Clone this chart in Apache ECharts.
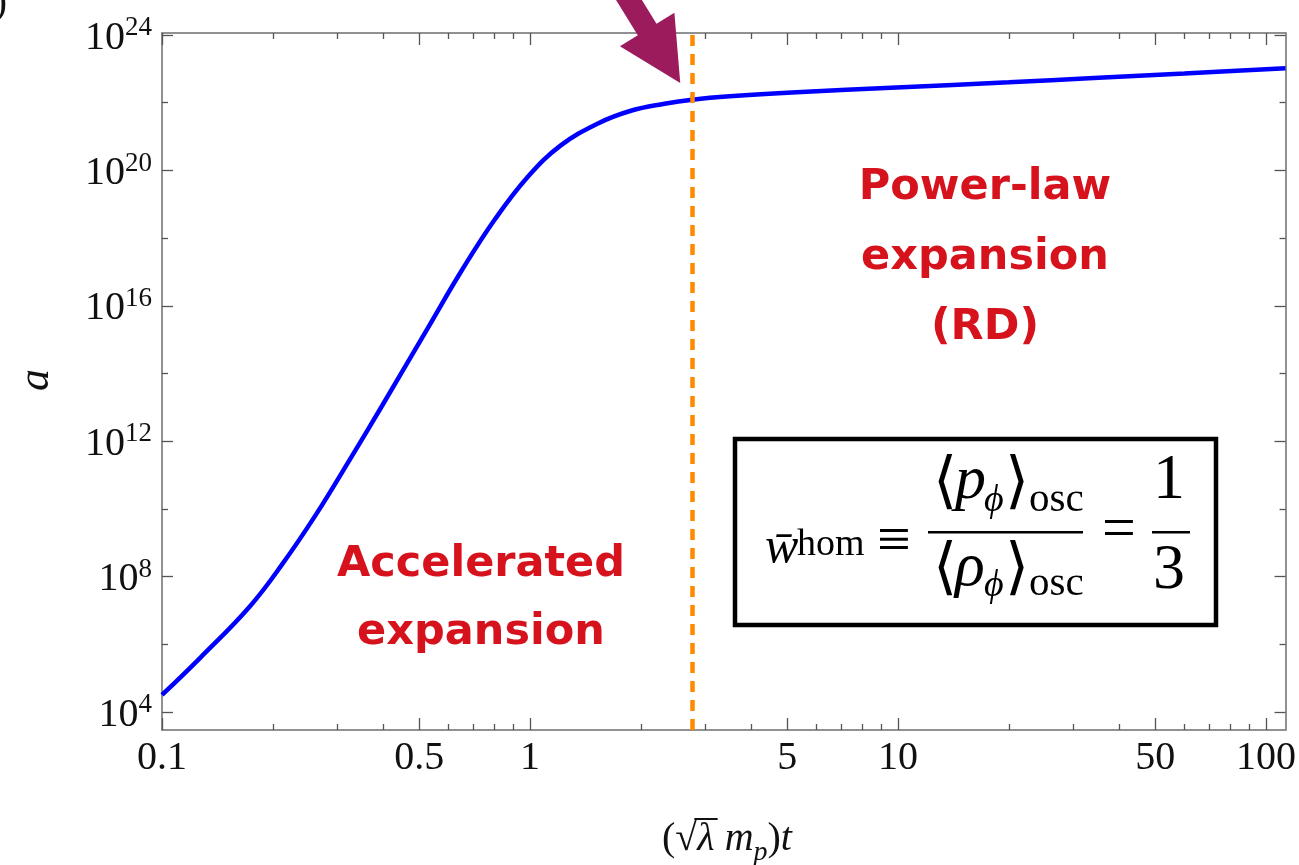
<!DOCTYPE html>
<html><head><meta charset="utf-8">
<script src="https://cdn.jsdelivr.net/npm/echarts@6/dist/echarts.min.js"></script>
<style>html,body{margin:0;padding:0;background:#fff}#c{width:1299px;height:865px}</style>
</head><body><div id="c"></div><script>
// ---- data ----
const tValues = [0.1, 0.127, 0.173, 0.212, 0.262, 0.322, 0.396, 0.53, 0.651, 0.803, 0.988, 1.21, 1.53, 1.88, 2.32, 2.76, 3.49, 5.3, 9.9, 20, 34, 60, 113];
const aValues = [3.2e4, 4.0e5, 1.3e7, 2.3e8, 6.8e9, 2.6e11, 1.1e13, 2.4e15, 1.07e17, 3.6e18, 6.6e19, 5.4e20, 2.45e21, 5.8e21, 9.3e21, 1.23e22, 1.55e22, 2.04e22, 2.8e22, 4.0e22, 5.4e22, 7.3e22, 1.05e23];
const xMajorTicks = [0.1, 0.5, 1, 5, 10, 50, 100];
const xMinorTicks = [0.2, 0.3, 0.4, 0.6, 0.7, 0.8, 0.9, 2, 3, 4, 6, 7, 8, 9, 20, 30, 40, 60, 70, 80, 90];
const yMajorTicks = [1e4, 1e8, 1e12, 1e16, 1e20, 1e24];
const yMinorTicks = [1e6, 1e10, 1e14, 1e18, 1e22];
const transitionT = 2.76;
const arrowTip = [2.56, 3.8e22];
const xRange = [0.1, 113];
const yRange = [Math.pow(10, 3.47), Math.pow(10, 24.06)];

const SERIF = '"Liberation Serif", "Times New Roman", serif';
const AXIS_COLOR = '#8a8a8a';
const TICK_COLOR = '#555';

function xAxisDef(pos, ticks, len, withLabels) {
  const ax = {
    type: 'log', logBase: 10, min: xRange[0], max: xRange[1], position: pos,
    axisLine: { show: true, onZero: false, lineStyle: { color: AXIS_COLOR, width: 1.5 } },
    axisTick: { show: true, inside: true, length: len, customValues: ticks, lineStyle: { color: TICK_COLOR, width: 1.3 } },
    axisLabel: { show: false },
    splitLine: { show: false }, minorTick: { show: false }, minorSplitLine: { show: false }
  };
  if (withLabels) {
    ax.axisLabel = {
      show: true, customValues: xMajorTicks, margin: 8,
      fontFamily: SERIF, fontSize: 40, color: '#111',
      formatter: v => String(Number(Number(v).toPrecision(6)))
    };
  }
  return ax;
}
function yAxisDef(pos, ticks, len, withLabels) {
  const ax = {
    type: 'log', logBase: 10, min: yRange[0], max: yRange[1], position: pos,
    axisLine: { show: true, onZero: false, lineStyle: { color: AXIS_COLOR, width: 1.5 } },
    axisTick: { show: true, inside: true, length: len, customValues: ticks, lineStyle: { color: TICK_COLOR, width: 1.3 } },
    axisLabel: { show: false },
    splitLine: { show: false }, minorTick: { show: false }, minorSplitLine: { show: false }
  };
  if (withLabels) {
    ax.axisLabel = {
      show: true, customValues: yMajorTicks, margin: 10,
      formatter: v => '{b|10}{s|' + Math.round(Math.log10(v)) + '}',
      rich: {
        b: { fontFamily: SERIF, fontSize: 40, color: '#111', padding: [6, 0, 0, 0] },
        s: { fontFamily: SERIF, fontSize: 27, color: '#111', padding: [0, 0, 14, 0] }
      }
    };
  }
  return ax;
}

const chart = echarts.init(document.getElementById('c'), null, { renderer: 'canvas' });

const RED = '#d6131d';
const formulaFont = (size, italic) => (italic ? 'italic ' : '') + size + 'px ' + SERIF;
function txt(text, x, y, size, italic, align) {
  return { type: 'text', silent: true, z: 110,
    style: { text: text, x: x, y: y, font: formulaFont(size, italic), fill: '#000', textAlign: align || 'left', textVerticalAlign: 'middle' } };
}

const graphics = [
  { type: 'text', silent: true, style: { text: 'b)', x: 7, y: 3, font: '40px ' + SERIF, fill: '#111', textAlign: 'right', textVerticalAlign: 'middle' } },
  { type: 'text', silent: true, x: 36, y: 380, rotation: Math.PI / 2,
    style: { text: 'a', x: 0, y: 0, font: 'italic 44px ' + SERIF, fill: '#111', textAlign: 'center', textVerticalAlign: 'middle' } },
  { type: 'text', silent: true, z: 100, style: { text: 'Accelerated\nexpansion', x: 481, y: 599, font: 'bold 43px "DejaVu Sans"', fill: RED, textAlign: 'center', textVerticalAlign: 'middle', lineHeight: 68 } },
  { type: 'text', silent: true, z: 100, style: { text: 'Power-law\nexpansion\n(RD)', x: 985, y: 258, font: 'bold 43px "DejaVu Sans"', fill: RED, textAlign: 'center', textVerticalAlign: 'middle', lineHeight: 70 } },
  { type: 'rect', silent: true, z: 105, shape: { x: 735, y: 439, width: 481, height: 186 }, style: { fill: '#fff', stroke: '#000', lineWidth: 4.5 } },
  txt('w\u0304', 765, 549, 50, true),
  txt('hom', 797, 545, 38, false),
  txt('\u2261', 894, 543, 60, false, 'center'),
  { type: 'rect', silent: true, z: 110, shape: { x: 928, y: 531, width: 155, height: 2.5 }, style: { fill: '#000' } },
  txt('\u27E8', 933, 485, 62, false),
  txt('p', 955, 482, 62, true),
  txt('\u03D5', 984, 501, 38, true),
  txt('\u27E9', 1005, 485, 62, false),
  txt('osc', 1029, 500, 41, false),
  txt('\u27E8', 933, 571, 62, false),
  txt('\u03C1', 955, 569, 62, true),
  txt('\u03D5', 984, 586, 38, true),
  txt('\u27E9', 1005, 571, 62, false),
  txt('osc', 1029, 584, 41, false),
  txt('=', 1119, 531, 60, false, 'center'),
  txt('1', 1169, 481, 64, false, 'center'),
  { type: 'rect', silent: true, z: 110, shape: { x: 1152, y: 531, width: 38, height: 2.5 }, style: { fill: '#000' } },
  txt('3', 1169, 571, 64, false, 'center')
];

// x-axis title "(√λ m_p)t" laid out piece by piece so the radical can get its overline
(function () {
  const ctx = document.createElement('canvas').getContext('2d');
  const N = '40px ' + SERIF, I = 'italic 40px ' + SERIF, S = 'italic 28px ' + SERIF;
  const pieces = [['(', N, 0, 40], ['\u221A', N, 0, 40], ['\u03BB', I, 0, 40], [' ', N, 0, 40], ['m', I, 0, 40], ['p', S, 9, 28], [')', N, 0, 40], ['t', I, 0, 40]];
  const widths = pieces.map(p => { ctx.font = p[1]; return ctx.measureText(p[0]).width; });
  const total = widths.reduce((s, w) => s + w, 0);
  const baseline = 851;
  let x = 727 - total / 2;
  let lamStart = 0, lamEnd = 0;
  pieces.forEach((p, i) => {
    graphics.push({ type: 'text', silent: true, z: 50,
      style: { text: p[0], x: x, y: baseline + p[2] + 0.22 * p[3], font: p[1], fill: '#111', textAlign: 'left', textVerticalAlign: 'bottom' } });
    if (i === 2) { lamStart = x; lamEnd = x + widths[i]; }
    x += widths[i];
  });
  graphics.push({ type: 'rect', silent: true, z: 50, shape: { x: lamStart - 3, y: baseline - 33, width: lamEnd - lamStart + 6, height: 2 }, style: { fill: '#111' } });
})();

const option = {
  animation: false,
  backgroundColor: '#fff',
  grid: { left: 162, right: 7, top: 33, bottom: 135, containLabel: false },
  xAxis: [
    xAxisDef('bottom', xMajorTicks, 12, true),
    xAxisDef('bottom', xMinorTicks, 6, false),
    xAxisDef('top', xMajorTicks, 12, false),
    xAxisDef('top', xMinorTicks, 6, false)
  ],
  yAxis: [
    yAxisDef('left', yMajorTicks, 11, true),
    yAxisDef('left', yMinorTicks, 6, false),
    yAxisDef('right', yMajorTicks, 11, false),
    yAxisDef('right', yMinorTicks, 6, false)
  ],
  series: [{
    type: 'line', xAxisIndex: 0, yAxisIndex: 0,
    data: tValues.map((t, i) => [t, aValues[i]]),
    smooth: 0.4, showSymbol: false, clip: true,
    lineStyle: { color: '#0000ff', width: 4.5 },
    markLine: {
      silent: true, symbol: 'none', label: { show: false },
      lineStyle: { color: '#ff8a00', width: 4.5, type: [11, 8] },
      data: [{ xAxis: transitionT }]
    }
  }],
  graphic: graphics
};
chart.setOption(option);

// arrow pointing at the transition, anchored in data coordinates
const tip = chart.convertToPixel({ xAxisIndex: 0, yAxisIndex: 0 }, arrowTip);
const d = [0.525, 0.851], n = [-0.851, 0.525];
const headLen = 63, headHalf = 32, shaftHalf = 11, shaftLen = 80;
const B = [tip[0] - headLen * d[0], tip[1] - headLen * d[1]];
const Tl = [B[0] - shaftLen * d[0], B[1] - shaftLen * d[1]];
const pts = [
  tip,
  [B[0] + headHalf * n[0], B[1] + headHalf * n[1]],
  [B[0] + shaftHalf * n[0], B[1] + shaftHalf * n[1]],
  [Tl[0] + shaftHalf * n[0], Tl[1] + shaftHalf * n[1]],
  [Tl[0] - shaftHalf * n[0], Tl[1] - shaftHalf * n[1]],
  [B[0] - shaftHalf * n[0], B[1] - shaftHalf * n[1]],
  [B[0] - headHalf * n[0], B[1] - headHalf * n[1]]
];
graphics.push({ type: 'polygon', silent: true, z: 120, shape: { points: pts }, style: { fill: '#9b1b5d' } });
chart.setOption({ graphic: graphics });
</script></body></html>
